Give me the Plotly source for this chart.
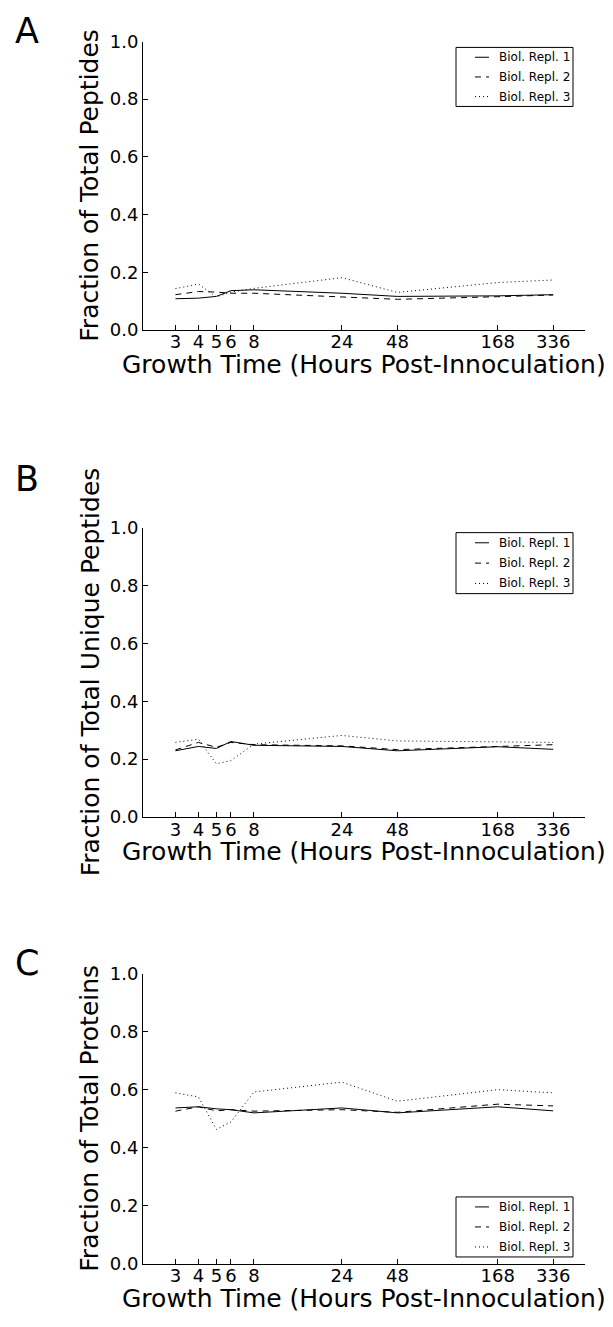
import plotly.graph_objects as go

W, H = 613, 1327

# Sampling times (hours post-inoculation)
hours = [3, 4, 5, 6, 8, 24, 48, 168, 336]
hour_labels = ["3", "4", "5", "6", "8", "24", "48", "168", "336"]

# Panel A: fraction of total peptides
peptides_r1 = [0.108, 0.110, 0.116, 0.136, 0.139, 0.127, 0.116, 0.118, 0.122]
peptides_r2 = [0.122, 0.133, 0.131, 0.127, 0.127, 0.114, 0.106, 0.115, 0.121]
peptides_r3 = [0.143, 0.159, 0.114, 0.131, 0.144, 0.181, 0.130, 0.164, 0.173]

# Panel B: fraction of total unique peptides
unique_r1 = [0.229, 0.244, 0.237, 0.261, 0.248, 0.244, 0.229, 0.243, 0.234]
unique_r2 = [0.232, 0.258, 0.241, 0.258, 0.250, 0.246, 0.233, 0.244, 0.250]
unique_r3 = [0.258, 0.269, 0.184, 0.195, 0.252, 0.282, 0.263, 0.260, 0.258]

# Panel C: fraction of total proteins
proteins_r1 = [0.537, 0.541, 0.534, 0.531, 0.520, 0.537, 0.520, 0.541, 0.527]
proteins_r2 = [0.526, 0.541, 0.527, 0.531, 0.526, 0.531, 0.522, 0.550, 0.544]
proteins_r3 = [0.589, 0.575, 0.463, 0.489, 0.592, 0.626, 0.560, 0.600, 0.589]

series_names = ["Biol. Repl. 1", "Biol. Repl. 2", "Biol. Repl. 3"]
y_titles = ["Fraction of Total Peptides", "Fraction of Total Unique Peptides",
            "Fraction of Total Proteins"]
panel_letters = ["A", "B", "C"]
x_title = "Growth Time (Hours Post-Innoculation)"
y_ticks = [0.0, 0.2, 0.4, 0.6, 0.8, 1.0]

panels = [
    (peptides_r1, peptides_r2, peptides_r3),
    (unique_r1, unique_r2, unique_r3),
    (proteins_r1, proteins_r2, proteins_r3),
]

FONT = "DejaVu Sans"
dashes = ["solid", "6px,5px", "1px,3px"]


def px_x(p):
    return p / W


def px_y(p):
    return 1 - p / H


# pixel geometry of each panel: (top of axis, bottom of axis)
x_left, x_right = 143, 585
panel_px = [(31, 324), (525, 819), (978, 1273)]
# legend box (top, bottom) for each panel
legend_px = [(37, 97), (530, 592), (1205, 1266)]
letter_px = [20, 476, 967]

fig = go.Figure()
shapes = []
annotations = []

for i, (series, (top, bot)) in enumerate(zip(panels, panel_px)):
    sfx = "" if i == 0 else str(i + 1)
    for name, vals, dash in zip(series_names, series, dashes):
        fig.add_trace(go.Scatter(
            x=hours, y=vals, mode="lines", name=name, showlegend=False,
            line=dict(color="black", width=1, dash=dash),
            xaxis="x" + sfx, yaxis="y" + sfx,
        ))

    axis_common = dict(
        showline=True, linecolor="black", linewidth=1, mirror=False,
        showgrid=False, zeroline=False, ticks="inside", ticklen=5,
        tickcolor="black", tickwidth=1,
        tickfont=dict(family=FONT, size=18, color="black"),
    )
    fig.layout["xaxis" + sfx] = dict(
        type="log", range=[0.30103, 2.69897],
        domain=[px_x(x_left), px_x(x_right)],
        tickvals=hours, ticktext=hour_labels, ticklabelstandoff=-4,
        anchor="y" + sfx, **axis_common,
    )
    fig.layout["yaxis" + sfx] = dict(
        range=[0, 1], domain=[px_y(bot), px_y(top)],
        tickvals=y_ticks, tickformat=".1f",
        anchor="x" + sfx, **axis_common,
    )

    # axis titles
    annotations.append(dict(
        text=x_title, xref="paper", yref="paper",
        x=px_x((x_left + x_right) / 2), y=px_y(bot + 35),
        xanchor="center", yanchor="middle", showarrow=False,
        font=dict(family=FONT, size=25, color="black"),
    ))
    annotations.append(dict(
        text=y_titles[i], xref="paper", yref="paper", textangle=-90,
        x=px_x(90), y=px_y((top + bot) / 2),
        xanchor="center", yanchor="middle", showarrow=False,
        font=dict(family=FONT, size=25, color="black"),
    ))
    # panel letter
    annotations.append(dict(
        text=panel_letters[i], xref="paper", yref="paper",
        x=px_x(27), y=px_y(letter_px[i]),
        xanchor="center", yanchor="middle", showarrow=False,
        font=dict(family=FONT, size=35, color="black"),
    ))

    # legend box
    lt, lb = legend_px[i]
    shapes.append(dict(
        type="rect", xref="paper", yref="paper",
        x0=px_x(456), x1=px_x(573), y0=px_y(lb), y1=px_y(lt),
        line=dict(color="black", width=1), fillcolor="white", layer="above",
    ))
    step = (lb - lt) / 3.0
    for k, (name, dash) in enumerate(zip(series_names, dashes)):
        yc = lt + step * (k + 0.5)
        shapes.append(dict(
            type="line", xref="paper", yref="paper",
            x0=px_x(475), x1=px_x(489), y0=px_y(yc), y1=px_y(yc),
            line=dict(color="black", width=1, dash=dash), layer="above",
        ))
        annotations.append(dict(
            text=name, xref="paper", yref="paper",
            x=px_x(497), y=px_y(yc), xanchor="left", yanchor="middle",
            showarrow=False, font=dict(family=FONT, size=12, color="black"),
        ))

fig.update_layout(
    width=W, height=H,
    margin=dict(l=0, r=0, t=0, b=0),
    paper_bgcolor="white", plot_bgcolor="white",
    showlegend=False,
    shapes=shapes, annotations=annotations,
    font=dict(family=FONT, color="black"),
)

fig.write_html("out.html")
